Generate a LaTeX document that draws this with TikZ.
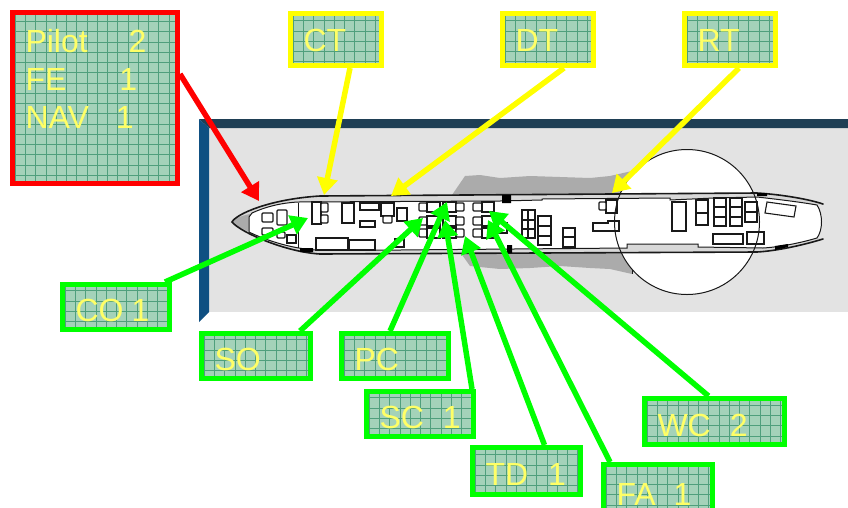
\documentclass[tikz,border=0pt]{standalone}
\usepackage{fontspec}
\setmainfont{Liberation Sans}
\usetikzlibrary{arrows.meta}
\definecolor{boxfill}{HTML}{A4D2B9}
\definecolor{gridc}{HTML}{4F9F7C}
\definecolor{labelc}{HTML}{FFFF66}
\definecolor{gr}{HTML}{00FF00}
\definecolor{yl}{HTML}{FFFF00}
\definecolor{rd}{HTML}{FF0000}
\definecolor{navy}{HTML}{1F3F55}
\definecolor{sidebar}{HTML}{0F5082}
\definecolor{panel}{HTML}{E3E3E3}
\definecolor{wing}{HTML}{ABABAB}
\definecolor{wall}{HTML}{D8D8D8}
\tikzset{
  lbox/.style={draw=#1, line width=5pt, fill=boxfill, text=labelc, align=left,
    inner xsep=13pt, inner ysep=0pt, anchor=center,
    font=\fontsize{32}{38}\selectfont,
    path picture={\draw[gridc, line width=.6pt, step=10.25pt]
      (path picture bounding box.south west) grid (path picture bounding box.north east);}},
  oneline/.style={text height=29pt, text depth=0pt},
  topline/.style={text height=24pt, text depth=0pt},
  conn/.style={draw=#1, line width=5.5pt, -{Triangle[length=17pt,width=20pt]}},
  furn/.style={draw=black!90, line width=1.1pt, fill=white},
  seat/.style={draw=black!90, line width=1.1pt, fill=white, rounded corners=1pt},
  skin/.style={draw=black!90, line width=1.6pt, line cap=round},
}
\begin{document}
\begin{tikzpicture}[x=1pt,y=-1pt]
\useasboundingbox (0,0) rectangle (848,507);
\clip (0,0) rectangle (848,507);
% panel
\fill[panel] (209,128) rectangle (848,312);
\fill[navy] (199,119) -- (848,119) -- (848,128) -- (209,128) -- cycle;
\fill[sidebar] (199,119) -- (209,128) -- (209,312) -- (199,322) -- cycle;
% wings
\fill[wing] (452,195) -- (465,176) -- (480,175) -- (500,178) -- (530,176) -- (560,177) -- (590,178) -- (610,176) -- (632,171) -- (632,194) -- cycle;
\fill[wing] (460,252) -- (470,266) -- (500,269) -- (530,268) -- (560,266) -- (590,268) -- (610,269) -- (632,274) -- (632,250) -- cycle;
\draw[black!90,line width=1pt] (632,171) -- (632,194) (632,250) -- (632,274);
\fill[white] (687,222) circle (72.5);
% fuselage
\fill[wall] (232,222) .. controls (236,214) and (270,199) .. (320,196) -- (757,193)
  .. controls (775,194) and (805,198) .. (823,204) -- (817,205) .. controls (823,214) and (823,230) .. (817,238)
  -- (823,239) .. controls (800,246) and (775,251) .. (757,252) -- (320,254)
  .. controls (285,252) and (240,232) .. (232,222) -- cycle;
\fill[wing] (232,222) .. controls (234,219) and (240,216) .. (250,214) -- (250,232) .. controls (240,228) and (234,225) .. (232,222) -- cycle;
\filldraw[fill=white,draw=black!90,line width=1pt] (249,217) -- (252,213) .. controls (265,207) and (280,203) .. (298,202) -- (500,201)
  -- (542,200) -- (542,199) -- (670,198) -- (670,200) -- (714,198) -- (757,197) .. controls (775,199) and (800,202) .. (817,205)
  .. controls (823,214) and (823,230) .. (817,238) .. controls (800,243) and (780,247) .. (763,248)
  -- (698,247) -- (698,244) -- (627,244) -- (627,248) -- (400,250) -- (320,250)
  .. controls (295,250) and (265,240) .. (249,232) -- cycle;
\draw[skin] (823,204) .. controls (805,198) and (775,194) .. (757,193) -- (320,196)
  .. controls (270,199) and (236,214) .. (232,222) .. controls (240,232) and (285,252) .. (320,254)
  -- (757,252) .. controls (775,251) and (800,246) .. (823,239);
\fill[black] (502,195) rectangle (511,203) (507,245) rectangle (512,253) (300,248) rectangle (313,252)
  (757,193) rectangle (767,196) (775,246) -- (788,244) -- (788,247) -- (775,250) -- cycle;
\draw[black!90,line width=1pt] (298,203) -- (298,248);
% cockpit
\draw[seat] (262,213) rectangle (273,222);
\draw[seat] (277,210) rectangle (287,225);
\draw[seat] (262,228) rectangle (273,235);
\draw[seat] (277,232) rectangle (285,238);
\draw[furn] (287,235) rectangle (296,243);
% forward cabin
\draw[furn] (312,202) rectangle (321,224);
\draw[seat] (321,203) rectangle (328,212);
\draw[seat] (321,215) rectangle (328,223);
\draw[furn] (342,203) rectangle (354,223);
\draw[furn] (360,203) rectangle (379,210);
\draw[furn] (360,221) rectangle (375,227);
\draw[furn] (381,203) rectangle (394,216);
\draw[seat] (383,216) rectangle (392,223);
\draw[furn] (397,208) rectangle (407,221);
\draw[furn] (316,238) rectangle (348,250);
\draw[furn] (349,240) rectangle (375,250);
\draw[furn] (395,239) rectangle (404,247);
% seat rows
\foreach \yy/\yb in {202/212,216/226,228/238}{
  \draw[seat] (419,\yy+1) rectangle (427,\yb-1);
  \draw[furn] (427,\yy) rectangle (440,\yb);
  \draw[furn] (443,\yy) rectangle (456,\yb);
  \draw[seat] (456,\yy+1) rectangle (464,\yb-1);
  \draw[seat] (473,\yy+1) rectangle (482,\yb-1);
  \draw[furn] (482,\yy) rectangle (494,\yb);
}
\draw[furn] (498,223) rectangle (507,233);
\draw[furn] (522,210) rectangle (535,238) (522,220) -- (535,220) (522,229) -- (535,229) (528,210) -- (528,238);
\draw[furn] (538,216) rectangle (551,245) (538,226) -- (551,226) (538,236) -- (551,236);
\draw[furn] (563,228) rectangle (575,247) (563,237) -- (575,237);
\draw[furn] (606,200) rectangle (617,213);
\draw[seat] (599,202) rectangle (606,210);
\draw[furn] (593,223) -- (608,223) -- (608,221) -- (619,221) -- (619,231) -- (593,231) -- cycle;
% aft cabin
\draw[furn] (672,202) rectangle (686,231);
\draw[furn] (696,200) rectangle (708,225) (696,213) -- (708,213);
\draw[furn] (714,198) rectangle (726,226) (714,207) -- (726,207) (714,217) -- (726,217);
\draw[furn] (730,198) rectangle (742,226) (730,207) -- (742,207) (730,217) -- (742,217);
\draw[furn] (745,202) rectangle (757,222) (745,212) -- (757,212);
\draw[furn] (713,234) rectangle (743,244);
\draw[furn] (747,232) rectangle (764,244);
\draw[furn] (767,202) -- (796,206) -- (794,217) -- (765,213) -- cycle;
\draw[black!90,line width=1pt] (687,222) circle (72.5);
% labels
\node[lbox=rd, minimum width=165pt, minimum height=171pt, text width=139pt] (crew) at (95,98)
  {Pilot\hspace*{41pt}2\\FE\hspace*{53pt}1\\NAV\hspace*{27pt}1\\[1pt]\mbox{}};
\node[lbox=yl, topline, minimum height=52pt, text width=65pt] (ct) at (336,39.5) {CT};
\node[lbox=yl, topline, minimum height=52pt, text width=65pt] (dt) at (548,39.5) {DT};
\node[lbox=yl, topline, minimum height=52pt, text width=65pt] (rt) at (730,39.5) {RT};
\node[lbox=gr, oneline, minimum height=45pt, text width=81pt] (co) at (116,307) {CO\hspace*{8pt}1};
\node[lbox=gr, oneline, minimum height=45pt, text width=83pt] (so) at (256,356) {SO};
\node[lbox=gr, oneline, minimum height=45pt, text width=81pt] (pc) at (395,356) {PC};
\node[lbox=gr, oneline, minimum height=45pt, text width=81pt] (sc) at (420,414) {SC\hspace*{19pt}1};
\node[lbox=gr, oneline, minimum height=47pt, text width=82pt] (td) at (526.5,471) {TD\hspace*{20pt}1};
\node[lbox=gr, oneline, minimum height=52pt, text width=83pt] (fa) at (658,490.5) {FA\hspace*{18pt}1};
\node[lbox=gr, oneline, minimum height=46pt, text width=114pt] (wc) at (714.5,421.5) {WC\hspace*{19pt}2};
% tips
\coordinate (tipCrew) at (259,201);
\coordinate (tipCT) at (324,195);
\coordinate (tipDT) at (391,196);
\coordinate (tipRT) at (612,193);
\coordinate (tipCO) at (308,218);
\coordinate (tipSO) at (423,218);
\coordinate (tipPC) at (447,202);
\coordinate (tipSC) at (445,220);
\coordinate (tipTD) at (465,236);
\coordinate (tipFA) at (488,220);
\coordinate (tipWC) at (489,211);
% connectors
\draw[conn=rd] ([yshift=24pt]crew.east) -- (tipCrew);
\draw[conn=yl] ([xshift=14pt]ct.south) -- (tipCT);
\draw[conn=yl] ([xshift=16pt]dt.south) -- (tipDT);
\draw[conn=yl] ([xshift=9pt]rt.south) -- (tipRT);
\draw[conn=gr] ([xshift=49pt]co.north) -- (tipCO);
\draw[conn=gr] ([xshift=44pt]so.north) -- (tipSO);
\draw[conn=gr] ([xshift=-5pt]pc.north) -- (tipPC);
\draw[conn=gr] ([xshift=52pt]sc.north) -- (tipSC);
\draw[conn=gr] ([xshift=18pt]td.north) -- (tipTD);
\draw[conn=gr] ([xshift=-48pt]fa.north) -- (tipFA);
\draw[conn=gr] ([xshift=-6pt]wc.north) -- (tipWC);
\end{tikzpicture}
\end{document}
